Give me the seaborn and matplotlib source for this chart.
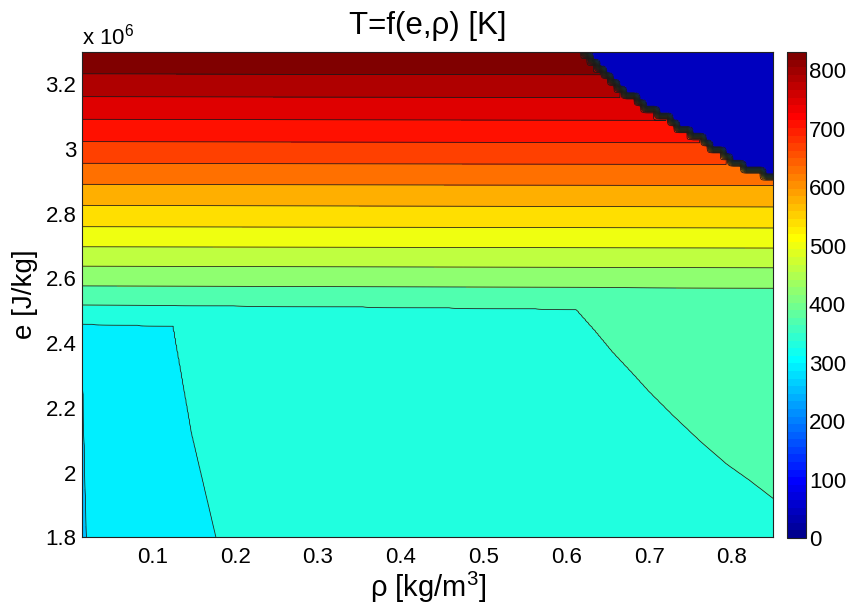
import numpy as np
import matplotlib
matplotlib.use("Agg")
import matplotlib.pyplot as plt
import seaborn as sns
from matplotlib.colors import ListedColormap, Normalize
from matplotlib.cm import ScalarMappable
from matplotlib.ticker import FuncFormatter

# ---------------- data ----------------
# contour levels of T [K]
LEVELS = [0.0, 41.55, 83.1, 124.65, 166.2, 207.75, 249.3, 290.85, 332.4,
          373.95, 415.5, 457.05, 498.6, 540.15, 581.7, 623.25, 664.8,
          706.35, 747.9, 789.45, 831.0]
T_MAX = 831.0

# contour line positions (rho [kg/m3], e [1e6 J/kg]) for levels 5..20
L05_rho = [0.015, 0.85];                       L05_e = [0.00, 0.00]
L06_rho = [0.015, 0.0203, 0.10, 0.85];          L06_e = [2.40, 1.80, 1.00, 0.50]
L07_rho = [0.015, 0.1253, 0.1475, 0.1768, 0.30, 0.85]
L07_e = [2.459, 2.453, 2.121, 1.800, 1.00, 0.80]
L08_rho = [0.015, 0.30, 0.612, 0.6361, 0.6561, 0.6802, 0.7004, 0.7285,
           0.7607, 0.7929, 0.8210, 0.85]
L08_e = [2.518, 2.514, 2.505, 2.435, 2.373, 2.307, 2.250, 2.178,
         2.100, 2.028, 1.977, 1.920]
L09_rho = [0.015, 0.85];  L09_e = [2.577, 2.571]
L10_rho = [0.015, 0.85];  L10_e = [2.638, 2.633]
L11_rho = [0.015, 0.85];  L11_e = [2.698, 2.694]
L12_rho = [0.015, 0.85];  L12_e = [2.760, 2.756]
L13_rho = [0.015, 0.85];  L13_e = [2.826, 2.821]
L14_rho = [0.015, 0.85];  L14_e = [2.891, 2.887]
L15_rho = [0.015, 0.85];  L15_e = [2.956, 2.952]
L16_rho = [0.015, 0.85];  L16_e = [3.023, 3.019]
L17_rho = [0.015, 0.85];  L17_e = [3.092, 3.088]
L18_rho = [0.015, 0.85];  L18_e = [3.162, 3.158]
L19_rho = [0.015, 0.85];  L19_e = [3.232, 3.228]
L20_rho = [0.015, 0.85];  L20_e = [3.400, 3.400]

# boundary of the undefined (T = 0) region, top right
BND_rho = [0.610, 0.6195, 0.6437, 0.6726, 0.6967, 0.7245, 0.7522, 0.7763,
           0.8004, 0.8245, 0.8487]
BND_e = [3.330, 3.297, 3.235, 3.173, 3.130, 3.090, 3.049, 3.006,
         2.966, 2.935, 2.913]
T_UNDEF = 0.0

X_TICKS = [0.1, 0.2, 0.3, 0.4, 0.5, 0.6, 0.7, 0.8]
Y_TICKS = [1.8, 2.0, 2.2, 2.4, 2.6, 2.8, 3.0, 3.2]
CB_TICKS = [0, 100, 200, 300, 400, 500, 600, 700, 800]

# ---------------- build the gridded field ----------------
# fine grid for the smooth contour lines
rho_f = np.linspace(0.015, 0.85, 600)
e_f = np.linspace(1.8, 3.3, 500)
# coarse (original table) grid for the undefined region
rho_c = np.linspace(0.015, 0.85, 105)
e_c = np.linspace(1.8, 3.3, 73)

lines = [(L05_rho, L05_e), (L06_rho, L06_e), (L07_rho, L07_e), (L08_rho, L08_e),
         (L09_rho, L09_e), (L10_rho, L10_e), (L11_rho, L11_e), (L12_rho, L12_e),
         (L13_rho, L13_e), (L14_rho, L14_e), (L15_rho, L15_e), (L16_rho, L16_e),
         (L17_rho, L17_e), (L18_rho, L18_e), (L19_rho, L19_e), (L20_rho, L20_e)]
line_levels = LEVELS[5:]
pos = np.array([np.interp(rho_f, r, ee) for r, ee in lines])
T = np.empty((len(e_f), len(rho_f)))
for j in range(len(rho_f)):
    T[:, j] = np.interp(e_f, pos[:, j], line_levels)

# validity on the coarse grid, bilinearly spread onto the fine grid
bnd_c = np.interp(rho_c, BND_rho, BND_e)
valid_c = (e_c[:, None] <= bnd_c[None, :]).astype(float)
W1 = np.array([np.interp(rho_f, rho_c, valid_c[i, :]) for i in range(len(e_c))])
w = np.empty_like(T)
for j in range(len(rho_f)):
    w[:, j] = np.interp(e_f, e_c, W1[:, j])
T = T_UNDEF + (T - T_UNDEF) * w


# ---------------- MATLAB style jet(64) ----------------
def matlab_jet(m=64):
    n = int(np.ceil(m / 4))
    u = np.concatenate([np.arange(1, n + 1) / n, np.ones(n - 1), np.arange(n, 0, -1) / n])
    g = int(np.ceil(n / 2)) - (1 if m % 4 == 1 else 0) + np.arange(1, len(u) + 1)
    r = g + n
    b = g - n
    J = np.zeros((m, 3))
    J[r[r <= m] - 1, 0] = u[r <= m]
    J[g[g <= m] - 1, 1] = u[g <= m]
    J[b[b >= 1] - 1, 2] = u[b >= 1]
    return ListedColormap(J, name="mjet")


cmap = matlab_jet(64)
nb = len(LEVELS) - 1
band_colors = [cmap((i + 1) / nb) for i in range(nb)]

# ---------------- figure ----------------
sns.set_theme(style="white")
plt.rcParams["font.family"] = ["Liberation Sans", "DejaVu Sans"]
plt.rcParams["mathtext.fontset"] = "custom"
plt.rcParams["mathtext.rm"] = "Liberation Sans"
plt.rcParams["mathtext.it"] = "Liberation Sans:italic"
plt.rcParams["text.color"] = "black"

fig = plt.figure(figsize=(8.53, 6.12), dpi=100)
fig.patch.set_facecolor("white")
ax = fig.add_axes([82 / 853, 1 - 537.3 / 612, (773.3 - 82) / 853, (537.3 - 52) / 612])

ax.contourf(rho_f, e_f, T, levels=LEVELS, colors=band_colors)
ax.contour(rho_f, e_f, T, levels=LEVELS[1:-1], colors="k", linewidths=0.55)

ax.set_xlim(0.015, 0.85)
ax.set_ylim(1.8, 3.3)
ax.set_xticks(X_TICKS)
ax.set_yticks(Y_TICKS)
fmt = FuncFormatter(lambda v, p: "%g" % round(v, 4))
ax.xaxis.set_major_formatter(fmt)
ax.yaxis.set_major_formatter(fmt)
ax.tick_params(axis="both", direction="in", top=True, right=True, length=5,
               width=0.6, color="#222222", labelsize=16, labelcolor="black")
ax.tick_params(axis="x", pad=7)
ax.tick_params(axis="y", pad=4)
for s in ax.spines.values():
    s.set_color("#222222")
    s.set_linewidth(0.8)

ax.set_title("T=f(e,ρ) [K]", fontsize=22.5, pad=13, color="black")
ax.set_xlabel(r"ρ [kg/$\mathrm{m}^{3}$]", fontsize=21, labelpad=1, color="black")
ax.set_ylabel("e [J/kg]", fontsize=20, labelpad=5, color="black")
ax.text(0.0, 1.005, r"x $\mathrm{10}^{6}$", transform=ax.transAxes, ha="left",
        va="bottom", fontsize=16, color="black")

cax = fig.add_axes([787.3 / 853, 1 - 538 / 612, (806 - 787.3) / 853, (538 - 52) / 612])
sm = ScalarMappable(norm=Normalize(0, T_MAX), cmap=cmap)
cb = fig.colorbar(sm, cax=cax)
cb.set_ticks(CB_TICKS)
cb.ax.tick_params(direction="in", left=True, right=True, length=5, width=0.6,
                  color="#222222", labelsize=16, labelcolor="black", pad=2)
cb.outline.set_edgecolor("#222222")
cb.outline.set_linewidth(0.8)

fig.savefig("out.png", dpi=100, facecolor="white")
